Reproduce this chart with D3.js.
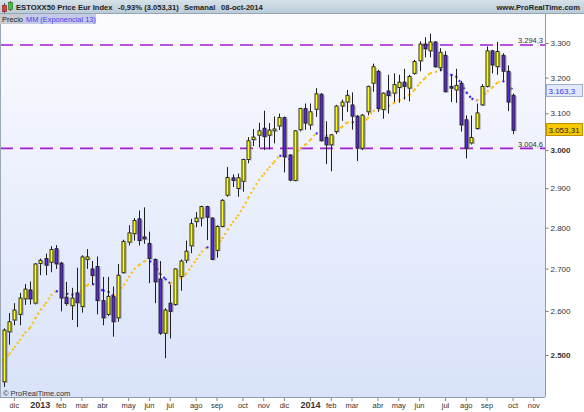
<!DOCTYPE html>
<html><head><meta charset="utf-8">
<script src="https://cdn.jsdelivr.net/npm/d3@7"></script>
<style>html,body{margin:0;padding:0;background:#fff;} svg{display:block;font-family:Arial,"Liberation Sans",sans-serif;}</style>
</head><body><svg id="c" width="584" height="412"></svg>
<script>
// ---------- DATA ----------
const firstWeek = "2012-11-19";   // Monday of first weekly candle
const axisEnd = "2014-11-04";     // axis extends to early Nov 2014
const opens  = [2441,2552,2579,2592,2628,2649,2618,2712,2724,2715,2748,2713,2632,2612,2642,2610,2722,2699,2705,2624,2592,2634,2584,2690,2764,2785,2822,2777,2761,2722,2675,2549,2618,2615,2681,2720,2755,2815,2824,2853,2824,2744,2803,2882,2927,2899,2918,2975,3028,3040,3059,3040,3052,3065,3088,2987,2920,3055,3113,3068,3111,3153,3034,3014,3050,3120,3131,3123,3092,3005,3104,3184,3218,3110,3162,3156,3172,3187,3170,3212,3248,3297,3277,3303,3228,3264,3175,3165,3184,3082,3019,3058,3123,3175,3277,3231,3264,3218,3150];
const highs  = [2560,2595,2618,2642,2663,2669,2713,2724,2736,2754,2757,2716,2668,2654,2702,2732,2747,2718,2729,2680,2680,2657,2711,2770,2806,2824,2843,2851,2790,2724,2718,2606,2662,2700,2722,2768,2822,2839,2855,2855,2826,2806,2872,2955,2936,2938,2977,3035,3057,3074,3107,3073,3091,3099,3091,2989,3054,3115,3127,3127,3170,3156,3078,3043,3123,3138,3165,3158,3095,3098,3177,3240,3222,3158,3208,3212,3208,3225,3208,3251,3305,3317,3327,3305,3285,3276,3208,3225,3190,3094,3094,3127,3181,3290,3280,3303,3270,3235,3155];
const lows   = [2430,2523,2567,2567,2614,2615,2615,2684,2684,2691,2699,2599,2612,2579,2563,2596,2699,2662,2592,2567,2588,2541,2575,2688,2756,2768,2756,2760,2665,2618,2545,2493,2537,2612,2647,2713,2737,2801,2803,2769,2720,2726,2801,2878,2903,2878,2891,2965,3011,3007,3000,3002,3018,3054,2941,2918,2918,3050,3055,3055,3090,3023,2963,2944,3043,3079,3104,3055,2971,3000,3094,3160,3104,3085,3099,3131,3129,3138,3133,3208,3218,3258,3258,3228,3218,3158,3131,3129,3050,2978,3015,3055,3120,3172,3212,3208,3191,3106,3043];
const closes = [2556,2575,2602,2630,2651,2628,2711,2720,2708,2746,2711,2630,2617,2630,2619,2728,2728,2683,2624,2584,2634,2575,2684,2766,2787,2818,2768,2772,2724,2668,2549,2602,2599,2699,2718,2742,2810,2824,2853,2826,2722,2803,2869,2928,2920,2927,2975,3025,3035,3052,3036,3054,3057,3088,2982,2921,3052,3113,3073,3104,3154,3025,3014,3041,3120,3131,3150,3092,3005,3095,3175,3231,3113,3156,3149,3180,3187,3175,3203,3246,3297,3283,3303,3231,3273,3160,3170,3178,3068,3005,3034,3101,3175,3277,3236,3275,3218,3131,3053.31];
const emaPeriod = 13;
const emaPrior = 2479;            // MM value just before the first candle
const yTicks = [2500,2600,2700,2800,2900,3000,3100,3200,3300];
const monthNames = ["ene","feb","mar","abr","may","jun","jul","ago","sep","oct","nov","dic"];
const levelValues = [3294.3, 3004.6];
const levelLabels = ["3.294,3", "3.004,6"];
const emaLastValue = 3163.3, emaLastLabel = "3.163,3";
const lastCloseValue = 3053.31, lastCloseLabel = "3.053,31";
const titleParts = ["ESTOXX50 Price Eur Index", "-0,93% (3.053,31)", "Semanal", "08-oct-2014"];

// ---------- LAYOUT ----------
const W = 584, H = 412;
const pL = 0, pR = 545, pT = 14, pB = 397;
const svg = d3.select("#c");
const defs = svg.append("defs");

const bg = defs.append("linearGradient").attr("id","bg").attr("x1",0).attr("y1",0).attr("x2",0).attr("y2",1);
bg.append("stop").attr("offset","0%").attr("stop-color","#fbfbff");
bg.append("stop").attr("offset","100%").attr("stop-color","#d8e2f9");
const hd = defs.append("linearGradient").attr("id","hd").attr("x1",0).attr("y1",0).attr("x2",0).attr("y2",1);
hd.append("stop").attr("offset","0%").attr("stop-color","#d6e1e8");
hd.append("stop").attr("offset","100%").attr("stop-color","#b9cad6");
defs.append("clipPath").attr("id","clip").append("rect").attr("x",pL).attr("y",pT).attr("width",pR-pL).attr("height",pB-pT);

svg.append("rect").attr("width",W).attr("height",H).attr("fill","#fff");
svg.append("rect").attr("x",pL).attr("y",pT).attr("width",pR-pL).attr("height",pB-pT).attr("fill","url(#bg)");

// ---------- SCALES ----------
const parse = d3.timeParse("%Y-%m-%d");
const weeks = d3.timeMonday.range(parse(firstWeek), parse(axisEnd));
const step = 5.194;
const x = d3.scaleBand().domain(d3.range(weeks.length)).range([4 - step/2, 4 - step/2 + step*weeks.length]).padding(0);
const cx = i => x(i) + x.bandwidth()/2;
const y = d3.scaleLog().domain([2500, 3300]).range([355, 43]);

const plot = svg.append("g").attr("clip-path","url(#clip)");

// ---------- LEVEL LINES ----------
levelValues.forEach((v,k) => {
  plot.append("line").attr("x1",pL).attr("x2",pR).attr("y1",y(v)).attr("y2",y(v))
    .attr("stroke","#a01ed2").attr("stroke-width",1.6).attr("stroke-dasharray","13,7");
});

// ---------- EMA ----------
const alpha = 2/(emaPeriod+1);
const ema = [];
let prev = emaPrior;
closes.forEach(c => { prev = prev + alpha*(c - prev); ema.push(prev); });
const emaPts = [{x: cx(0) - step, v: emaPrior}].concat(ema.map((v,i)=>({x: cx(i), v})));
for (let k = 1; k < emaPts.length; k++) {
  const a = emaPts[k-1], b = emaPts[k];
  plot.append("line").attr("x1",a.x).attr("y1",y(a.v)).attr("x2",b.x).attr("y2",y(b.v))
    .attr("stroke", b.v >= a.v ? "#ffbf10" : "#3f22f5")
    .attr("stroke-width",2.2).attr("stroke-dasharray","2,3");
}

// ---------- CANDLES ----------
const data = closes.map((c,i)=>({i, o:opens[i], h:highs[i], l:lows[i], c}));
const cg = plot.append("g");
cg.selectAll("line.w").data(data).join("line").attr("class","w")
  .attr("x1",d=>Math.round(cx(d.i))+0.5).attr("x2",d=>Math.round(cx(d.i))+0.5)
  .attr("y1",d=>y(d.h)).attr("y2",d=>y(d.l))
  .attr("stroke","#1e1e1e").attr("stroke-width",1);
cg.selectAll("rect.s").data(data).join("rect").attr("class","s")
  .attr("x",d=>Math.round(cx(d.i))-1+1)
  .attr("y",d=>Math.min(y(d.o),y(d.c))+1)
  .attr("width",4).attr("height",d=>Math.max(1.5,Math.abs(y(d.o)-y(d.c))))
  .attr("fill","#9a9a9a").attr("opacity",0.5);
cg.selectAll("rect.b").data(data).join("rect").attr("class","b")
  .attr("x",d=>Math.round(cx(d.i))-1)
  .attr("y",d=>Math.min(y(d.o),y(d.c)))
  .attr("width",3).attr("height",d=>Math.max(1.5,Math.abs(y(d.o)-y(d.c))))
  .attr("fill",d=>d.c>=d.o ? "#ffff00" : "#5a2ad8")
  .attr("stroke","#1e1e1e").attr("stroke-width",0.9);

// level labels
levelValues.forEach((v,k) => {
  svg.append("text").attr("x",543).attr("y",y(v)-1.5).attr("text-anchor","end")
    .attr("font-size","7.5px").attr("fill","#333").text(levelLabels[k]);
});

// plot border
svg.append("line").attr("x1",pR+0.5).attr("x2",pR+0.5).attr("y1",pT).attr("y2",pB).attr("stroke","#8d9dad");
svg.append("line").attr("x1",pL).attr("x2",pR).attr("y1",pB+0.5).attr("y2",pB+0.5).attr("stroke","#8d9dad");
svg.append("line").attr("x1",0.5).attr("x2",0.5).attr("y1",pT).attr("y2",pB).attr("stroke","#9aa8b6");

// ---------- RIGHT AXIS ----------
const fmt = v => d3.format(",")(v).replace(/,/g,".");
const yAxis = d3.axisRight(y).tickValues(yTicks).tickSize(3).tickPadding(2).tickFormat(fmt);
const ya = svg.append("g").attr("transform",`translate(${pR+0.5},0)`).call(yAxis);
ya.select(".domain").remove();
ya.selectAll(".tick line").attr("stroke","#777");
ya.selectAll(".tick text").attr("font-size","8px").attr("fill","#333")
  .attr("font-family","Arial, 'Liberation Sans', sans-serif")
  .attr("font-weight",d => (d===3000||d===2500) ? "bold" : "normal");

// value boxes
function valueBox(v, label, fill, stroke, color) {
  const yy = Math.round(y(v));
  svg.append("rect").attr("x",546.5).attr("y",yy-6.5).attr("width",36).attr("height",12)
    .attr("fill",fill).attr("stroke",stroke).attr("stroke-width",1);
  svg.append("text").attr("x",548.5).attr("y",yy+3).attr("font-size","8px").attr("fill",color).text(label);
}
valueBox(emaLastValue, emaLastLabel, "#e2e9f8", "#9fb0d8", "#3535ff");
valueBox(lastCloseValue, lastCloseLabel, "#f8c800", "#b89000", "#222");

// ---------- X AXIS ----------
const tickIdx = weeks.map((d,i)=>({d,i})).filter(o => o.d.getDate() <= 7);
const xAxis = d3.axisBottom(x).tickValues(tickIdx.map(o=>o.i)).tickSize(3).tickPadding(2)
  .tickFormat(i => { const d = weeks[i]; return d.getMonth()===0 ? String(d.getFullYear()) : monthNames[d.getMonth()]; });
const xa = svg.append("g").attr("transform",`translate(0,${pB+1})`).call(xAxis);
xa.select(".domain").remove();
xa.selectAll(".tick line").attr("stroke","#888");
xa.selectAll(".tick text").attr("fill","#333").attr("font-family","Arial, 'Liberation Sans', sans-serif")
  .attr("font-size", i => weeks[i].getMonth()===0 ? "9px" : "7.5px")
  .attr("font-weight", i => weeks[i].getMonth()===0 ? "bold" : "normal")
  .attr("dy","0.6em");

svg.append("text").attr("x",3).attr("y",396).attr("font-size","7.5px").attr("fill","#333").text("© ProRealTime.com");

// ---------- HEADER ----------
svg.append("rect").attr("x",0).attr("y",0).attr("width",W).attr("height",14).attr("fill","url(#hd)");
svg.append("line").attr("x1",0).attr("x2",W).attr("y1",13.5).attr("y2",13.5).attr("stroke","#93a6b4");
// icon
svg.append("line").attr("x1",4.5).attr("x2",4.5).attr("y1",3).attr("y2",13).attr("stroke","#555");
svg.append("rect").attr("x",2.5).attr("y",5.5).attr("width",4).attr("height",6).attr("fill","#e23a3a").attr("stroke","#7a1a1a").attr("stroke-width",0.6);
svg.append("line").attr("x1",10.5).attr("x2",10.5).attr("y1",1).attr("y2",11).attr("stroke","#555");
svg.append("rect").attr("x",8.5).attr("y",2.5).attr("width",4).attr("height",7).attr("fill","#3cc43c").attr("stroke","#1a6a1a").attr("stroke-width",0.6);
const tx = [16, 118, 184, 221];
titleParts.forEach((t,k)=>{
  svg.append("text").attr("x",tx[k]).attr("y",10).attr("font-size","7.6px").attr("font-weight","bold").attr("fill","#222").text(t);
});
svg.append("text").attr("x",580).attr("y",10).attr("text-anchor","end").attr("font-size","7.6px").attr("font-weight","bold").attr("fill","#222").text("www.ProRealTime.com");

// tabs
svg.append("rect").attr("x",0).attr("y",14).attr("width",24).attr("height",10).attr("fill","#c9cacf");
svg.append("text").attr("x",2).attr("y",22).attr("font-size","7.4px").attr("fill","#222").text("Precio");
svg.append("rect").attr("x",24).attr("y",14).attr("width",72).attr("height",10).attr("fill","#c5cbe6");
svg.append("text").attr("x",26).attr("y",22).attr("font-size","7.4px").attr("fill","#4a3cf0").text("MM (Exponencial 13)");
</script></body></html>
